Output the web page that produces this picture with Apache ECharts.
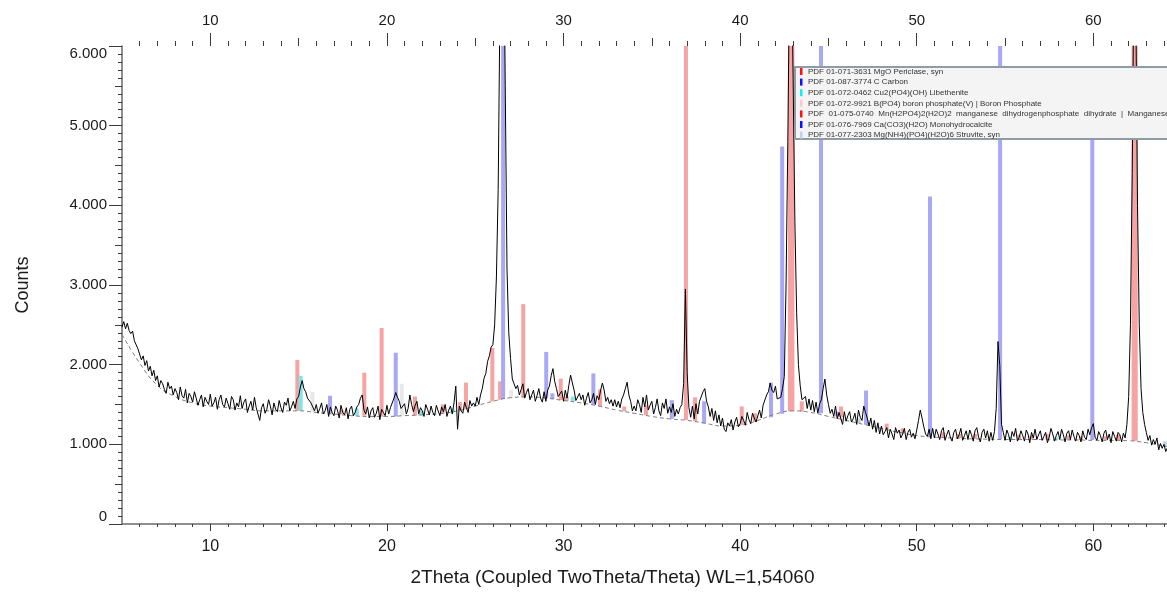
<!DOCTYPE html>
<html><head><meta charset="utf-8">
<script src="https://cdn.jsdelivr.net/npm/echarts@6/dist/echarts.min.js"></script>
<style>html,body{margin:0;padding:0;background:#fff}#c{width:1167px;height:592px}</style>
</head><body><div id="c"></div>
<script>
// ---- data ----
const twoThetaStart = 5.0;
const twoThetaStep = 0.1;
const counts = [
 2470,2540,2450,2520,2430,2390,2420,2300,2310,2200,
 2180,2060,2110,1990,2050,1920,1980,1860,1930,1800,
 1860,1720,1800,1760,1690,1640,1780,1700,1730,1620,
 1700,1650,1560,1720,1610,1580,1690,1520,1640,1600,
 1530,1660,1580,1490,1560,1620,1470,1590,1540,1500,
 1630,1480,1520,1590,1440,1560,1620,1500,1470,1580,
 1510,1440,1600,1560,1430,1520,1470,1610,1450,1530,
 1570,1400,1480,1540,1430,1590,1460,1380,1300,1460,
 1510,1390,1440,1560,1480,1370,1520,1440,1410,1550,
 1460,1400,1530,1490,1580,1420,1470,1540,1450,1570,
 1600,1720,1800,1700,1660,1580,1560,1520,1530,1420,
 1500,1390,1450,1520,1380,1420,1500,1350,1470,1400,
 1360,1480,1430,1330,1490,1400,1370,1460,1320,1440,
 1480,1360,1400,1470,1500,1580,1620,1430,1380,1470,
 1330,1420,1460,1340,1390,1480,1310,1440,1400,1360,
 1490,1380,1460,1470,1580,1650,1590,1540,1450,1470,
 1510,1380,1450,1620,1500,1410,1490,1540,1380,1460,
 1420,1350,1500,1440,1370,1480,1400,1360,1490,1420,
 1360,1470,1410,1500,1350,1430,1480,1380,1520,1730,
 1190,1480,1420,1390,1530,1460,1400,1550,1480,1520,
 1480,1590,1500,1620,1700,1830,1890,2040,2110,2220,
 2250,2500,3100,4200,6500,7600,7800,5500,3200,2400,
 2080,1820,1760,1700,1740,1620,1690,1760,1580,1650,
 1700,1560,1620,1680,1540,1610,1700,1580,1530,1660,
 1540,1680,1730,1860,1950,1790,1700,1600,1590,1670,
 1540,1680,1580,1740,1870,1770,1680,1550,1570,1640,
 1560,1620,1490,1580,1650,1520,1560,1640,1500,1610,
 1560,1680,1770,1680,1540,1590,1510,1560,1480,1560,
 1470,1540,1460,1570,1620,1700,1780,1620,1540,1420,
 1480,1420,1560,1500,1400,1590,1470,1620,1430,1490,
 1540,1380,1460,1570,1420,1360,1520,1450,1570,1390,
 1470,1400,1510,1350,1440,1380,1460,1500,1760,2950,
 1900,1460,1340,1480,1320,1510,1380,1540,1560,1660,
 1700,1540,1470,1350,1450,1300,1420,1270,1370,1230,
 1330,1190,1160,1270,1230,1310,1180,1280,1340,1220,
 1260,1350,1300,1240,1400,1310,1260,1390,1330,1280,
 1290,1430,1330,1490,1500,1620,1660,1770,1680,1650,
 1730,1570,1590,1590,1700,1850,3000,4800,7000,7200,
 5600,3800,2650,2000,1740,1560,1560,1600,1450,1570,
 1430,1550,1410,1530,1390,1510,1560,1700,1820,1620,
 1500,1390,1440,1350,1480,1320,1400,1380,1250,1410,
 1290,1360,1410,1280,1320,1390,1250,1430,1340,1300,
 1480,1400,1330,1230,1330,1190,1300,1150,1270,1130,
 1230,1120,1160,1210,1080,1190,1130,1060,1210,1140,
 1180,1080,1130,1200,1060,1150,1190,1090,1140,1070,
 1180,1300,1430,1330,1220,1130,1100,1190,1070,1200,
 1080,1190,1130,1060,1170,1210,1050,1120,1180,1090,
 1040,1150,1190,1070,1120,1200,1050,1110,1170,1060,
 1180,1120,1040,1170,1210,1090,1030,1150,1190,1080,
 1170,1040,1150,1050,1160,1450,2290,1990,1250,1150,
 1050,1180,1120,1030,1160,1100,1200,1040,1090,1170,
 1110,1040,1180,1130,1020,1150,1080,1190,1060,1120,
 1170,1050,1100,1150,1020,1090,1200,1130,1040,1110,
 1160,1060,1190,1120,1030,1140,1170,1060,1180,1100,
 1040,1150,1110,1030,1170,1090,1060,1190,1120,1210,
 1260,1090,1050,1160,1110,1030,1140,1180,1060,1130,
 1020,1160,1100,1040,1150,1120,1030,1140,1080,1250,
 1600,2500,4400,7000,6600,4000,2500,1700,1400,1250,
 1150,1050,1110,990,1060,1000,1080,930,1010,950,
 1000,910,960
];
// background curve [2theta, counts]
const background = [
 [5,2380],[6,2020],[7,1740],[8,1600],[9,1520],[10,1480],[11,1460],[12,1440],[13,1420],[14,1420],
 [15,1420],[16,1400],[17,1380],[18,1360],[19,1350],[20,1350],[21,1360],[22,1370],[23,1385],[24,1420],
 [25,1480],[26,1540],[27,1585],[28,1595],[29,1580],[30,1550],[31,1520],[32,1480],[33,1430],[34,1390],
 [35,1350],[36,1320],[37,1300],[38,1265],[39,1230],[40,1240],[41,1300],[42,1380],[43,1420],[44,1400],
 [45,1350],[46,1300],[47,1250],[48,1200],[49,1150],[50,1110],[51,1090],[52,1080],[53,1070],[54,1065],
 [55,1060],[56,1060],[57,1060],[58,1055],[59,1055],[60,1050],[61,1050],[62,1045],[63,1020],[64,980],[64.2,970]
];
// reference sticks: [2theta, base counts, top counts, phase index]
const sticks = [
 [14.93,1420,2060,4],[15.12,1420,1860,2],[15.78,1410,1660,3],[16.78,1390,1610,5],[17.44,1380,1430,4],
 [18.29,1360,1450,2],[18.72,1360,1900,4],[19.70,1350,2460,4],[20.50,1350,2150,5],[20.84,1355,1760,3],
 [21.59,1360,1600,4],[21.97,1365,1420,2],[23.16,1390,1500,4],[23.72,1400,1450,2],[24.14,1420,1530,4],
 [24.48,1440,1775,4],[25.97,1540,2210,4],[26.40,1560,1790,4],[26.58,1570,6500,1],[27.03,1585,1680,3],
 [27.72,1590,2760,4],[29.02,1580,2160,5],[29.37,1570,1640,5],[29.84,1555,1825,4],[30.18,1545,1600,4],
 [30.52,1540,1600,2],[31.69,1500,1890,5],[32.07,1480,1690,4],[33.44,1415,1475,4],[34.67,1365,1490,4],
 [36.13,1320,1555,5],[36.93,1305,6500,0],[37.45,1290,1590,4],[37.96,1265,1540,5],[40.09,1245,1475,4],
 [40.84,1280,1390,4],[41.75,1340,1775,5],[42.38,1385,4740,1],[42.82,1415,6500,0],[42.96,1420,6500,4],
 [43.49,1410,1540,4],[44.58,1390,6500,1],[45.50,1350,1410,5],[45.71,1340,1475,4],[46.73,1265,1325,6],
 [47.13,1245,1675,5],[48.30,1190,1260,4],[49.20,1140,1200,4],[50.75,1105,4110,5],[51.50,1085,1150,4],
 [52.40,1078,1130,4],[53.30,1070,1130,4],[54.72,1065,6500,1],[55.30,1060,1090,2],[55.80,1060,1120,4],
 [56.50,1060,1110,4],[57.40,1060,1130,4],[57.90,1058,1085,2],[58.60,1055,1110,4],[59.30,1055,1100,4],
 [59.94,1055,5200,1],[60.70,1050,1100,4],[61.40,1050,1120,4],[62.28,1045,6500,0],[62.40,1045,6500,4],
 [64.06,980,1040,6]
];
const phases = [
 'PDF 01-071-3631 MgO Periclase, syn',
 'PDF 01-087-3774 C Carbon',
 'PDF 01-072-0462 Cu2(PO4)(OH) Libethenite',
 'PDF 01-072-9921 B(PO4) boron phosphate(V) | Boron Phosphate',
 'PDF  01-075-0740  Mn(H2PO4)2(H2O)2  manganese  dihydrogenphosphate  dihydrate  |  Manganese Hydrogen Phosphate Hydrate',
 'PDF 01-076-7969 Ca(CO3)(H2O) Monohydrocalcite',
 'PDF 01-077-2303 Mg(NH4)(PO4)(H2O)6 Struvite, syn'
];
const xLabels = [10,20,30,40,50,60];
const yLabels = [0,1000,2000,3000,4000,5000,6000];
const xTitle = '2Theta (Coupled TwoTheta/Theta) WL=1,54060';
const yTitle = 'Counts';

// ---- styles ----
const markerColors = ['#ff1010','#1010ff','#10f0f0','#ffc8cc','#ff1010','#1010ff','#c2d2ea'];
const stickColors  = ['#f5a3a3','#a8a8f4','#80e6e6','#e8e8e8','#f5a3a3','#a8a8f4','#c9d5e8'];
const FONT = "'Liberation Sans', Arial, sans-serif";
const X_MIN = 5, X_MAX = 64.17, Y_MIN = 0, Y_MAX = 6000;

const deg1 = []; for (let d = 6; d <= 64; d++) deg1.push(d);
const deg5 = [15,25,35,45,55];
const y100 = []; for (let v = 100; v <= 6000; v += 100) y100.push(v);
const y500 = [500,1500,2500,3500,4500,5500];

const lineData = counts.map((c, i) => [+(twoThetaStart + i * twoThetaStep).toFixed(2), c]);

const chart = echarts.init(document.getElementById('c'), null, {renderer: 'canvas'});

const xBase = {type: 'value', min: X_MIN, max: X_MAX, splitLine: {show: false}};
const yBase = {type: 'value', min: Y_MIN, max: Y_MAX, position: 'left', splitLine: {show: false}};
const tickStyle = {color: '#3a3a3a', width: 1};

const legendGraphics = [{
  type: 'rect', shape: {x: 795, y: 67, width: 420, height: 72},
  style: {fill: '#f4f4f4', stroke: '#8e9ca6', lineWidth: 2}, z: 100
}];
phases.forEach((p, i) => {
  const cy = 71.5 + i * 10.6;
  legendGraphics.push({type: 'rect', shape: {x: 800, y: cy - 3.5, width: 2.5, height: 7},
    style: {fill: markerColors[i]}, z: 101});
  legendGraphics.push({type: 'text', x: 808, y: cy,
    style: {text: p, font: '8px ' + FONT, fill: '#333', textVerticalAlign: 'middle', verticalAlign: 'middle'}, z: 101});
});

chart.setOption({
  animation: false,
  backgroundColor: '#fff',
  grid: {left: 122, right: 0, top: 46, bottom: 66, containLabel: false},
  xAxis: [
    Object.assign({}, xBase, {position: 'bottom',
      axisLine: {show: true, onZero: false, lineStyle: {color: '#6a6a6a', width: 1.5}},
      axisTick: {show: true, customValues: deg1, length: 3, lineStyle: tickStyle},
      axisLabel: {customValues: xLabels, margin: 15, fontSize: 16, color: '#1a1a1a', fontFamily: FONT},
      name: xTitle, nameLocation: 'middle', nameGap: 44,
      nameTextStyle: {fontSize: 19, color: '#1a1a1a', fontFamily: FONT, padding: [0, 64, 0, 0]}}),
    Object.assign({}, xBase, {position: 'bottom', axisLine: {show: false},
      axisTick: {show: true, customValues: xLabels, length: 7, lineStyle: tickStyle},
      axisLabel: {show: false}}),
    Object.assign({}, xBase, {position: 'top', axisLine: {show: false, onZero: false},
      axisTick: {show: true, customValues: deg1, length: 5, lineStyle: tickStyle},
      axisLabel: {customValues: xLabels, margin: 18, fontSize: 15, color: '#1a1a1a', fontFamily: FONT}}),
    Object.assign({}, xBase, {position: 'top', axisLine: {show: false, onZero: false},
      axisTick: {show: true, customValues: deg5, length: 8, lineStyle: tickStyle},
      axisLabel: {show: false}}),
    Object.assign({}, xBase, {position: 'top', axisLine: {show: false, onZero: false},
      axisTick: {show: true, customValues: xLabels, length: 13, lineStyle: tickStyle},
      axisLabel: {show: false}})
  ],
  yAxis: [
    Object.assign({}, yBase, {
      axisLine: {show: true, onZero: false, lineStyle: {color: '#6a6a6a', width: 1.5}},
      axisTick: {show: true, customValues: y100, length: 4, lineStyle: tickStyle},
      axisLabel: {customValues: yLabels, margin: 15, fontSize: 15, color: '#1a1a1a', fontFamily: FONT,
        verticalAlignMinLabel: 'bottom', verticalAlignMaxLabel: 'top',
        formatter: v => v === 0 ? '0' : (v / 1000).toFixed(3)},
      name: yTitle, nameLocation: 'middle', nameGap: 90,
      nameTextStyle: {fontSize: 18, color: '#1a1a1a', fontFamily: FONT}}),
    Object.assign({}, yBase, {axisLine: {show: false, onZero: false},
      axisTick: {show: true, customValues: y500, length: 7, lineStyle: tickStyle}, axisLabel: {show: false}}),
    Object.assign({}, yBase, {axisLine: {show: false, onZero: false},
      axisTick: {show: true, customValues: yLabels, length: 13, lineStyle: tickStyle}, axisLabel: {show: false}})
  ],
  series: [
    {
      type: 'custom', xAxisIndex: 0, yAxisIndex: 0, z: 1,
      data: sticks,
      encode: {x: 0, y: [1, 2]},
      renderItem: (params, api) => {
        const x = api.value(0), b = api.value(1), t = api.value(2), ph = api.value(3);
        const p0 = api.coord([x, b]);
        const p1 = api.coord([x, Math.min(t, Y_MAX)]);
        return {type: 'rect', shape: {x: p0[0] - 2, y: p1[1], width: 4, height: p0[1] - p1[1]},
          style: {fill: stickColors[ph]}};
      }
    },
    {
      type: 'line', xAxisIndex: 0, yAxisIndex: 0, z: 2, data: background, smooth: true,
      showSymbol: false, silent: true,
      lineStyle: {color: '#7a7a7a', width: 1, type: [4, 3]}
    },
    {
      type: 'line', xAxisIndex: 0, yAxisIndex: 0, z: 3, data: lineData,
      showSymbol: false, silent: true, clip: true,
      lineStyle: {color: '#000', width: 1}
    }
  ],
  graphic: legendGraphics
});
</script>
</body></html>
